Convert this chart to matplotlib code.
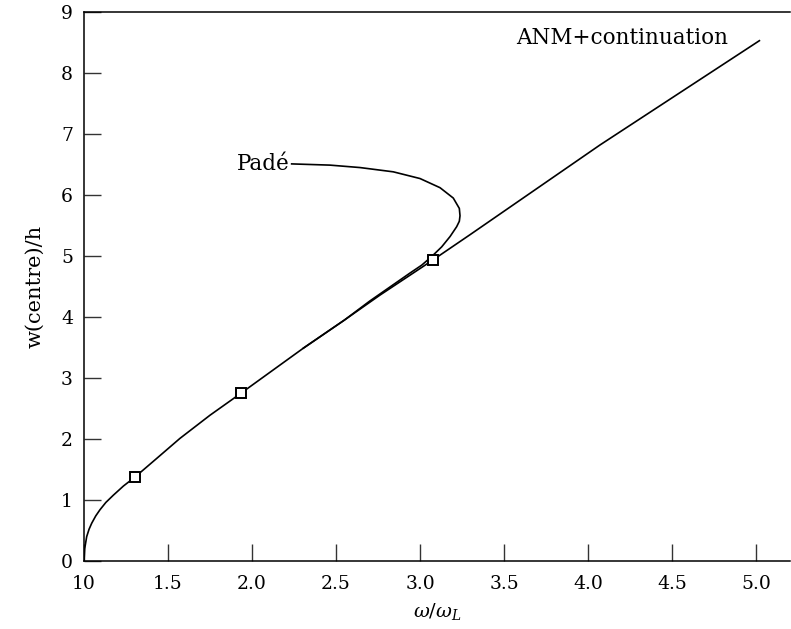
import matplotlib
matplotlib.use('Agg')
import matplotlib.pyplot as plt

# ANM + continuation curve
anm_x = [1.0, 1.004, 1.016, 1.03, 1.046, 1.07, 1.095, 1.13, 1.175, 1.235, 1.305,
         1.432, 1.571, 1.75, 1.934, 2.12, 2.306, 2.55, 2.762, 3.074, 3.298,
         4.071, 5.02]
anm_y = [0.0, 0.20, 0.40, 0.52, 0.62, 0.74, 0.84, 0.96, 1.08, 1.23, 1.38,
         1.68, 2.01, 2.39, 2.75, 3.12, 3.49, 3.95, 4.36, 4.93, 5.35,
         6.82, 8.53]

# Padé branch, leaving the main curve and folding back
pade_x = [2.306, 2.55, 2.70, 2.82, 2.94, 3.01, 3.069, 3.129, 3.179, 3.218,
          3.234, 3.238, 3.234, 3.198, 3.119, 3.0, 2.841, 2.643, 2.464, 2.236]
pade_y = [3.49, 3.95, 4.26, 4.49, 4.72, 4.85, 4.99, 5.15, 5.32, 5.48,
          5.57, 5.66, 5.78, 5.95, 6.12, 6.27, 6.38, 6.45, 6.49, 6.51]

# square markers
mark_x = [1.305, 1.934, 3.075]
mark_y = [1.38, 2.75, 4.93]

xticks = [1.0, 1.5, 2.0, 2.5, 3.0, 3.5, 4.0, 4.5, 5.0]
xtick_labels = ['10', '1.5', '2.0', '2.5', '3.0', '3.5', '4.0', '4.5', '5.0']
yticks = list(range(10))

plt.rcParams['font.family'] = ['DejaVu Serif']
plt.rcParams['mathtext.fontset'] = 'dejavuserif'

fig = plt.figure(figsize=(7.91, 6.29), dpi=100)
ax = fig.add_axes([0.1062, 0.1081, 0.8925, 0.8728])

ax.plot(anm_x, anm_y, color='black', lw=1.2, solid_joinstyle='round')
ax.plot(pade_x, pade_y, color='black', lw=1.2, solid_joinstyle='round')
ax.plot(mark_x, mark_y, 's', ms=7.5, mfc='white', mec='black', mew=1.4, zorder=5)

ax.text(2.225, 6.51, 'Padé', ha='right', va='center', fontsize=15.5)
ax.text(4.20, 8.57, 'ANM+continuation', ha='center', va='center', fontsize=15.5)

ax.set_xlim(1.0, 5.202)
ax.set_ylim(0, 9)
ax.set_xticks(xticks)
ax.set_xticklabels(xtick_labels)
ax.set_yticks(yticks)
ax.tick_params(direction='in', length=12, width=1, labelsize=13.5, color='#333333')
ax.tick_params(axis='x', pad=10)
ax.tick_params(axis='y', pad=8)
ax.spines['right'].set_visible(False)
for s in ['left', 'top', 'bottom']:
    ax.spines[s].set_linewidth(1.1)

ax.set_xlabel(r'$\omega/\omega_L$', fontsize=14, labelpad=6)
ax.set_ylabel('w(centre)/h', fontsize=15, labelpad=12)

fig.savefig('out.png', dpi=100)
